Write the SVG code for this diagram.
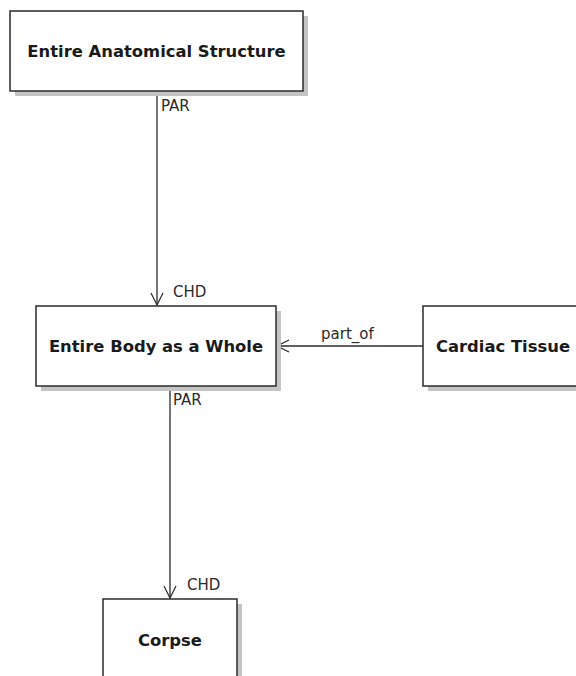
<svg xmlns="http://www.w3.org/2000/svg" width="576" height="676" viewBox="0 0 576 676">
  <defs>
    <style>
      .shadow { fill: #c4c4c4; }
      .box { fill: #ffffff; stroke: #2b2b2b; stroke-width: 1.5; }
      .title { font-family: "DejaVu Sans", Verdana, sans-serif; font-weight: bold; font-size: 16.4px; fill: #1a1a1a; text-anchor: middle; }
      .edge { stroke: #2b2b2b; stroke-width: 1.3; fill: none; }
      .role { font-family: "DejaVu Sans", Verdana, sans-serif; font-size: 15px; fill: #2b2b2b; }
    </style>
    <marker id="open" viewBox="0 0 14 14" refX="13" refY="7" markerWidth="14" markerHeight="14" markerUnits="userSpaceOnUse" orient="auto">
      <path d="M1 1 L13 7 L1 13" fill="none" stroke="#2b2b2b" stroke-width="1.2"/>
    </marker>
  </defs>

  <rect width="576" height="676" fill="#ffffff"/>

  <g id="connectors">
    <line class="edge" x1="157" y1="91" x2="157" y2="305" marker-end="url(#open)"/>
    <text class="role" x="161" y="111">PAR</text>
    <text class="role" x="173" y="297">CHD</text>

    <line class="edge" x1="423" y1="346" x2="277" y2="346" marker-end="url(#open)"/>
    <text class="role" x="321" y="339">part_of</text>

    <line class="edge" x1="170" y1="386" x2="170" y2="598" marker-end="url(#open)"/>
    <text class="role" x="173" y="405">PAR</text>
    <text class="role" x="187" y="590">CHD</text>
  </g>

  <g id="entire-anatomical-structure">
    <rect class="shadow" x="15" y="16" width="293" height="80"/>
    <rect class="box" x="10" y="11" width="293" height="80"/>
    <text class="title" x="156.5" y="57">Entire Anatomical Structure</text>
  </g>

  <g id="entire-body-as-a-whole">
    <rect class="shadow" x="41" y="311" width="240" height="80"/>
    <rect class="box" x="36" y="306" width="240" height="80"/>
    <text class="title" x="156" y="352">Entire Body as a Whole</text>
  </g>

  <g id="cardiac-tissue">
    <rect class="shadow" x="428" y="311" width="160" height="80"/>
    <rect class="box" x="423" y="306" width="160" height="80"/>
    <text class="title" x="503" y="352">Cardiac Tissue</text>
  </g>

  <g id="corpse">
    <rect class="shadow" x="108" y="604" width="134" height="90"/>
    <rect class="box" x="103" y="599" width="134" height="90"/>
    <text class="title" x="170" y="646">Corpse</text>
  </g>
</svg>
